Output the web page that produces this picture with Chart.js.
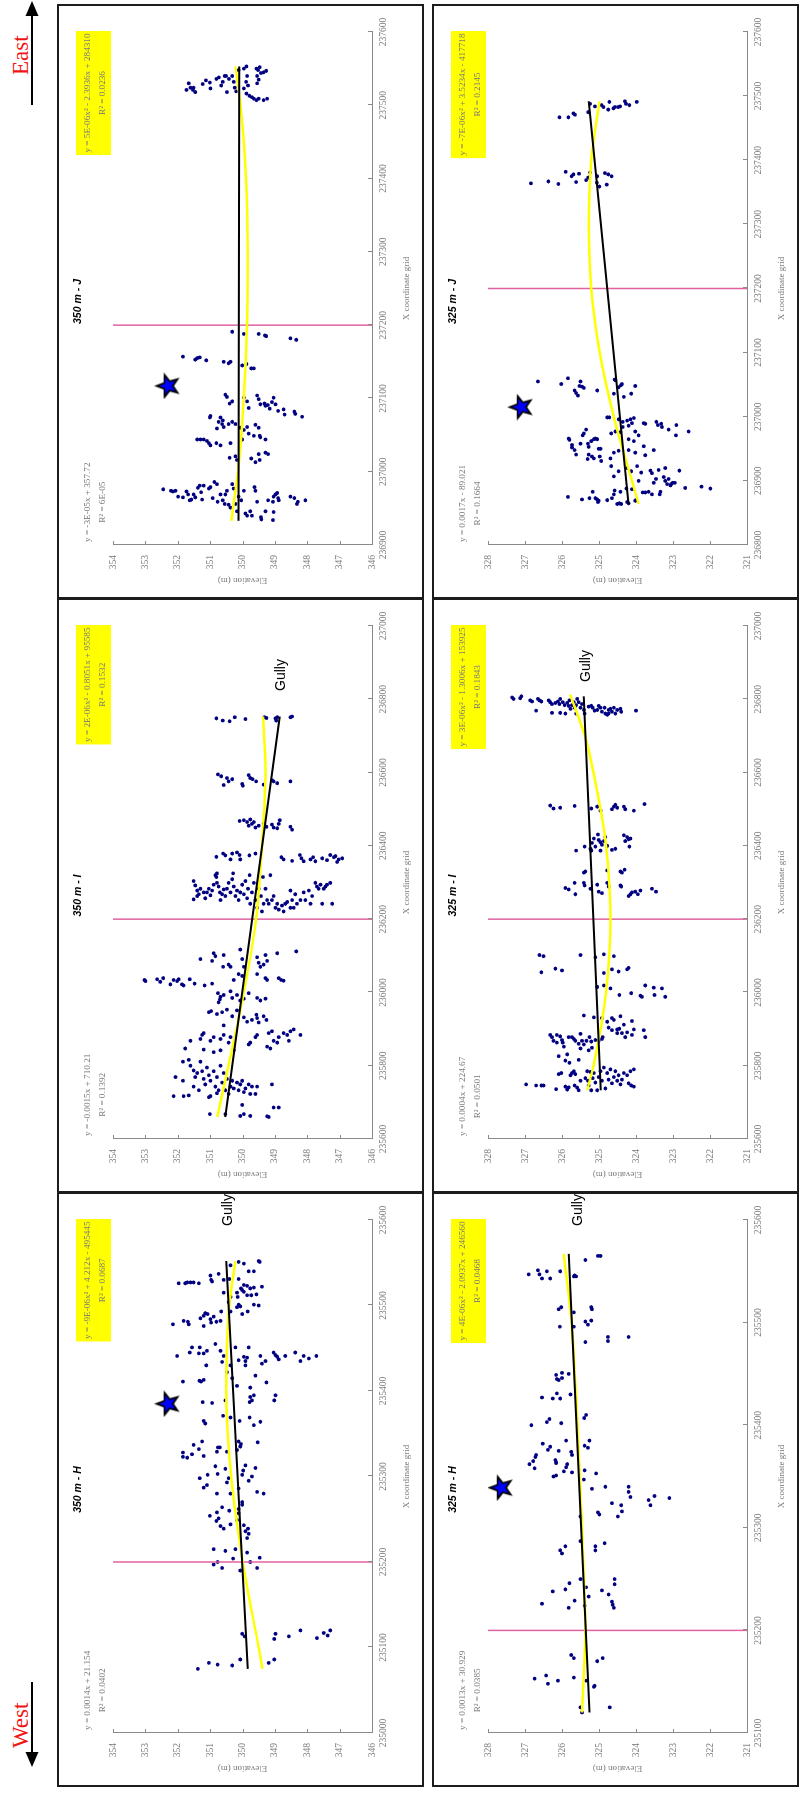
<!DOCTYPE html>
<html>
<head>
<meta charset="utf-8">
<title>Elevation profiles across the X coordinate grid (350 m and 325 m lines)</title>
<script src="https://cdn.jsdelivr.net/npm/chart.js@4.4.1/dist/chart.umd.min.js"></script>
<style>
html, body { margin: 0; padding: 0; background: #fff; }
body { width: 800px; height: 1798px; overflow: hidden; position: relative; }
/* the sheet is laid out in landscape and turned a quarter turn counter-clockwise */
#sheet { position: absolute; left: 0; top: 0; width: 1798px; height: 800px;
         transform-origin: 0 0; transform: translate(0, 1798px) rotate(-90deg); }
.panel { position: absolute; width: 595px; height: 367px; box-sizing: border-box;
         border: 2px solid #1c1c1c; background: #fff; }
.panel canvas { position: absolute; left: 0; top: 0; }
#compass { position: absolute; left: 0; top: 0; }
</style>
</head>
<body>
<div id="sheet">
  <svg id="compass" width="1798" height="50" xmlns="http://www.w3.org/2000/svg">
    <text x="50" y="28" font-family="Liberation Serif, Times New Roman, serif" font-size="23" fill="#f01414">West</text>
    <line x1="116" y1="32" x2="44" y2="32" stroke="#000" stroke-width="2"/>
    <polygon points="31,32 46,25.5 46,38.5" fill="#000"/>
    <text x="1723" y="28" font-family="Liberation Serif, Times New Roman, serif" font-size="23" fill="#f01414">East</text>
    <line x1="1693" y1="32" x2="1784" y2="32" stroke="#000" stroke-width="2"/>
    <polygon points="1797,32 1782,25.5 1782,38.5" fill="#000"/>
  </svg>
</div>
<script>
// ---------- axis ticks ----------
const elevTicks350 = [346, 347, 348, 349, 350, 351, 352, 353, 354];
const elevTicks325 = [321, 322, 323, 324, 325, 326, 327, 328];
const xTicksJ350 = [236900, 237000, 237100, 237200, 237300, 237400, 237500, 237600];
const xTicksI = [235600, 235800, 236000, 236200, 236400, 236600, 236800, 237000];
const xTicksH350 = [235000, 235100, 235200, 235300, 235400, 235500, 235600];
const xTicksJ325 = [236800, 236900, 237000, 237100, 237200, 237300, 237400, 237500, 237600];
const xTicksH325 = [235100, 235200, 235300, 235400, 235500, 235600];

// ---------- section boundaries (vertical marker lines) ----------
const boundaryJ = 237200;
const boundaryI = 236200;
const boundaryH = 235200;

// ---------- star markers [x, elevation] ----------
const starJ350 = [237117, 352.33];
const starH350 = [235385, 352.33];
const starJ325 = [237015, 327.13];
const starH325 = [235339, 327.67];

// ---------- survey points [x, elevation] ----------
const ptsJ350 = [
  [237521,351.73],[237530,351.66],[237524,351.61],[237524,351.51],[237518,351.46],[237521,351.53],[237529,351.23],[237534,351.13],
  [237531,351.01],[237523,350.99],[237536,350.81],[237538,350.73],[237527,350.66],[237532,350.61],[237540,350.55],[237540,350.51],
  [237518,350.48],[237536,350.42],[237540,350.32],[237532,350.27],[237524,350.24],[237519,350.20],[237548,350.12],[237550,349.96],
  [237553,349.88],[237540,349.86],[237532,349.89],[237527,349.83],[237523,349.96],[237516,349.88],[237513,349.79],[237511,349.71],
  [237550,349.57],[237548,349.52],[237552,349.47],[237544,349.43],[237540,349.55],[237535,349.50],[237545,349.35],[237547,349.27],
  [237530,349.55],[237509,349.65],[237507,349.57],[237509,349.50],[237507,349.35],[237509,349.24],
  [237191,350.32],[237188,349.96],[237188,349.50],[237186,349.31],[237185,349.27],[237182,348.52],[237180,348.34],[237157,351.84],
  [237153,351.46],[237155,351.40],[237156,351.32],[237152,351.12],[237150,350.58],[237148,350.43],[237150,350.37],[237145,350.01],
  [237147,349.88],[237141,349.73],[237141,349.65],
  [237105,350.53],[237102,350.48],[237093,350.40],[237096,350.32],[237101,349.96],[237096,349.86],[237087,349.81],[237104,349.55],
  [237099,349.50],[237092,349.45],[237093,349.32],[237090,349.29],[237091,349.22],[237086,349.16],[237095,349.09],[237101,349.04],
  [237092,348.98],[237083,348.90],[237085,348.73],[237078,348.70],[237082,348.40],[237079,348.37],[237075,348.16],[237076,350.99],
  [237074,351.01],[237074,350.68],[237070,350.61],[237068,350.74],[237065,350.63],[237059,350.79],[237061,350.58],[237065,350.43],
  [237068,350.32],[237065,350.22],[237060,350.07],[237057,349.96],[237061,349.86],[237064,349.60],[237060,349.50],[237052,349.81],
  [237049,349.65],[237049,349.47],[237047,349.45],[237044,349.29],[237044,351.40],[237044,351.30],[237044,351.20],[237042,351.10],
  [237039,351.04],[237036,350.99],[237039,350.81],[237036,350.68],[237039,350.37],[237044,350.01],
  [237019,350.40],[237021,350.22],[237016,350.17],[237018,349.73],[237013,349.60],[237024,349.50],[237016,349.47],[237026,349.29],
  [237024,349.21],
  [236976,352.45],[236974,352.21],[236973,352.15],[236974,352.07],[236966,351.99],[236965,351.84],[236973,351.73],[236969,351.68],
  [236961,351.63],[236962,351.58],[236969,351.51],[236965,351.46],[236978,351.38],[236981,351.32],[236972,351.28],[236962,351.25],
  [236981,351.20],[236977,351.04],[236979,350.99],[236964,350.92],[236986,350.87],[236983,350.79],[236959,350.77],[236969,350.68],
  [236961,350.61],[236956,350.55],[236969,350.53],[236974,350.48],[236951,350.37],[236983,350.32],[236977,350.27],[236946,350.17],
  [236966,350.12],[236961,350.04],[236974,349.96],[236943,349.91],[236940,349.86],[236946,349.76],[236940,349.71],[236979,349.63],
  [236974,349.60],[236959,349.55],[236938,349.43],[236935,349.42],[236946,349.29],[236961,349.21],[236959,349.06],[236966,349.04],
  [236969,348.98],[236971,348.93],[236964,348.90],[236961,348.88],[236945,349.04],[236934,349.06],[236966,348.52],[236964,348.40],
  [236956,348.32],[236959,348.29],[236961,348.06],[236956,350.22],[236955,350.43]
];

const ptsI350 = [
  [236748,350.81],[236742,350.61],[236740,350.40],[236751,350.24],[236746,349.91],[236751,349.32],[236749,349.26],[236748,348.98],
  [236751,348.93],[236742,348.96],[236751,348.52],[236753,348.47],
  [236595,350.76],[236590,350.66],[236566,350.58],[236585,350.48],[236576,350.43],[236582,350.32],[236569,350.01],[236564,349.99],
  [236593,349.81],[236585,349.76],[236582,349.69],[236576,349.58],[236567,349.35],[236579,349.09],[236576,349.04],[236571,348.93],
  [236576,348.52],
  [236468,350.09],[236470,349.96],[236465,349.86],[236455,349.81],[236472,349.76],[236460,349.71],[236465,349.65],[236450,349.60],
  [236455,349.50],[236460,349.35],[236452,349.26],[236458,349.09],[236450,349.04],[236448,348.93],[236460,348.88],[236470,348.85],
  [236452,348.52],[236444,348.47],
  [236370,350.81],[236379,350.60],[236374,350.53],[236363,350.37],[236379,350.32],[236382,350.17],[236375,350.09],[236363,350.07],
  [236374,349.79],[236379,349.60],[236369,348.80],[236363,348.73],[236359,348.47],[236375,348.23],[236366,348.18],[236358,348.11],
  [236363,347.90],[236369,347.82],[236358,347.75],[236366,347.54],[236361,347.39],[236375,347.29],[236369,347.18],[236363,347.03],
  [236372,347.13],[236366,346.92],[236356,347.08],
  [236304,351.51],[236292,351.46],[236278,351.40],[236268,351.35],[236283,351.30],[236273,351.20],[236257,351.15],[236254,351.51],
  [236263,351.40],[236273,351.10],[236283,351.04],[236265,350.99],[236278,350.94],[236294,350.89],[236320,350.84],[236315,350.81],
  [236299,350.79],[236289,350.74],[236273,350.70],[236252,350.68],[236268,350.63],[236281,350.58],[236325,350.79],[236263,350.53],
  [236283,350.48],[236299,350.43],[236273,350.37],[236309,350.32],[236325,350.29],[236289,350.27],[236263,350.22],[236278,350.17],
  [236252,350.12],[236273,350.07],[236294,350.01],[236268,349.96],[236304,349.91],[236257,349.86],[236283,349.83],[236320,349.78],
  [236242,349.76],[236273,349.71],[236299,349.65],[236252,349.60],[236231,349.55],[236283,349.50],[236263,349.43],[236315,349.37],
  [236242,349.35],[236221,349.40],[236283,349.29],[236252,349.24],[236242,349.19],[236320,349.14],[236263,349.04],[236231,348.98],
  [236242,348.93],[236226,348.88],[236237,348.78],[236221,348.73],[236242,348.68],[236247,348.62],[236278,348.52],[236252,348.47],
  [236231,348.42],[236268,348.37],[236242,348.32],[236252,348.21],[236273,348.11],[236252,348.06],[236278,347.95],[236242,347.90],
  [236263,347.85],[236299,347.75],[236289,347.70],[236283,347.65],[236294,347.59],[236283,347.49],[236289,347.44],[236294,347.39],
  [236299,347.29],[236242,347.54],[236242,347.23],[236231,348.52],[236252,349.09],
  [236091,351.30],[236107,350.89],[236086,350.94],[236099,350.84],[236102,350.58],[236070,350.60],[236076,350.43],[236070,350.37],
  [236117,350.07],[236091,350.01],[236070,349.96],[236096,349.55],[236081,349.50],[236070,349.45],[236102,349.29],[236086,349.24],
  [236076,349.35],[236107,348.93],[236112,348.34],[236050,350.12],[236045,350.01],[236050,349.55],[236039,349.29],[236034,349.24],
  [236039,348.88],[236034,348.81],[236032,348.73],[236034,350.27],[236034,353.03],[236031,353.00],[236036,352.64],[236029,352.54],
  [236039,352.45],[236022,352.23],[236034,352.13],[236031,352.02],[236036,351.97],[236022,351.87],[236019,351.82],[236036,351.63],
  [236024,351.48],[236019,351.17],[236024,350.94],
  [235998,350.76],[235988,350.68],[235981,350.70],[235993,350.58],[236003,350.37],[235985,350.32],[235993,350.17],[235978,350.07],
  [235983,349.96],[235998,349.81],[235985,349.55],[235978,349.45],[235983,349.29],[235973,350.74],
  [235946,351.04],[235949,350.97],[235941,350.79],[235946,350.63],[235953,350.48],[235935,350.32],[235951,350.17],[235932,349.96],
  [235920,349.86],[235925,349.71],[235939,349.57],[235930,349.55],[235918,349.50],[235935,349.35],[235925,349.26],[235910,350.58],
  [235868,351.61],[235847,351.77],[235873,351.30],[235884,351.25],[235889,351.20],[235868,350.99],[235878,350.89],[235873,350.68],
  [235884,350.58],[235863,350.43],[235878,350.37],[235842,350.27],[235858,349.81],[235863,349.76],[235878,349.60],[235884,349.55],
  [235852,349.24],[235889,349.19],[235847,349.14],[235894,349.09],[235868,349.04],[235863,348.93],[235878,348.88],[235889,348.73],
  [235884,348.62],[235868,348.57],[235894,348.52],[235899,348.42],[235884,348.21],[235844,351.20],[235837,350.89],[235842,350.68],
  [235811,351.84],[235816,351.66],[235800,351.61],[235787,351.51],[235769,351.46],[235780,351.40],[235811,351.30],[235785,351.25],
  [235764,351.20],[235749,351.15],[235795,351.10],[235774,351.04],[235759,350.99],[235785,350.89],[235743,350.84],[235769,350.79],
  [235800,350.68],[235754,350.63],[235780,350.58],[235733,350.53],[235764,350.48],[235723,350.43],[235743,350.37],[235759,350.32],
  [235738,350.27],[235754,350.17],[235733,350.12],[235749,350.07],[235759,350.01],[235728,349.96],[235738,349.91],[235749,349.81],
  [235723,349.76],[235743,349.71],[235723,349.60],[235743,349.55],[235749,349.09],[235769,352.07],[235759,351.84],[235743,351.51],
  [235733,351.35],[235717,352.13],[235717,351.82],[235719,351.66],[235714,351.04],[235717,350.99],[235725,350.79],[235733,350.74],
  [235668,351.01],[235668,350.53],[235663,350.07],[235693,350.01],[235668,349.96],[235663,349.76],[235662,349.24],[235660,349.19],
  [235686,349.04],[235686,348.88]
];

const ptsH350 = [
  [235551,350.12],[235549,349.96],[235552,349.50],[235551,349.47],[235540,349.65],[235540,349.81],[235547,350.37],[235537,350.74],
  [235535,350.99],[235530,350.97],[235528,350.94],[235530,350.58],[235531,350.41],[235531,350.12],[235524,349.96],[235523,349.86],
  [235520,350.05],[235518,350.01],[235515,350.17],[235520,349.76],[235521,349.65],[235522,349.40],[235513,349.57],[235512,349.73],
  [235512,349.86],[235526,351.97],[235526,351.77],[235527,351.71],[235527,351.61],[235527,351.51],[235526,351.35],[235515,350.58],
  [235510,350.37],[235516,349.96],[235510,350.15],
  [235501,350.12],[235499,350.07],[235498,350.17],[235490,350.01],[235493,349.84],[235501,349.65],[235500,349.50],[235504,350.43],
  [235493,350.37],[235493,350.66],[235482,350.68],[235481,350.81],[235487,350.89],[235480,350.97],[235491,351.15],[235488,351.20],
  [235485,351.30],[235476,351.20],[235481,351.69],[235478,351.66],[235482,351.82],[235478,352.15],[235484,350.99],[235490,351.08],
  [235441,352.02],[235445,351.63],[235451,351.56],[235444,351.35],[235451,351.32],[235444,351.20],[235447,351.10],[235455,350.84],
  [235447,350.68],[235441,350.58],[235451,350.22],[235436,350.12],[235440,349.96],[235435,349.91],[235451,349.81],[235439,349.86],
  [235441,349.45],[235432,349.40],[235435,349.29],[235445,349.04],[235442,348.98],[235440,348.93],[235437,348.88],[235441,348.68],
  [235445,348.37],[235435,348.21],[235441,348.11],[235438,347.95],[235441,347.72],[235430,351.12],[235434,350.63],[235430,350.37],
  [235430,349.91],
  [235411,351.84],[235412,351.33],[235411,351.28],[235413,351.20],[235422,350.48],[235415,350.32],[235406,350.17],[235418,349.60],
  [235410,349.26],[235404,349.76],
  [235387,351.23],[235386,350.94],[235393,349.76],[235395,349.65],[235387,349.78],[235389,349.71],[235395,348.98],[235389,349.02],
  [235371,350.60],[235369,350.37],[235365,350.09],[235369,349.78],[235364,349.45],[235360,349.65],[235365,351.20],[235362,351.15],
  [235389,350.53],
  [235337,351.51],[235326,351.56],[235332,351.35],[235341,351.25],[235324,351.20],[235328,351.84],[235323,351.84],[235322,351.71],
  [235334,350.76],[235329,350.79],[235334,350.70],[235329,350.48],[235341,350.12],[235338,350.05],[235335,350.07],[235340,349.53],
  [235331,350.17],
  [235298,351.32],[235290,351.10],[235312,350.84],[235303,350.77],[235280,350.79],[235309,350.53],[235293,350.48],[235298,350.43],
  [235280,350.37],[235286,350.12],[235307,349.98],[235313,349.91],[235295,349.81],[235300,349.71],[235310,349.60],[235282,349.55],
  [235280,349.35],[235287,351.20],[235302,351.08],[235302,350.01],
  [235254,351.01],[235248,350.81],[235258,350.79],[235251,350.74],[235264,350.63],[235242,350.68],[235239,350.58],[235260,350.41],
  [235244,350.37],[235249,350.17],[235262,350.12],[235270,350.01],[235243,349.96],[235236,349.91],[235239,349.83],[235233,349.81],
  [235228,349.86],[235267,350.01],[235257,350.12],
  [235215,350.89],[235213,350.53],[235215,350.22],[235211,349.86],[235205,349.47],[235204,350.29],[235197,350.89],[235200,350.77],
  [235193,350.63],[235190,350.07],[235200,349.76],[235193,349.55],
  [235116,350.01],[235113,349.93],[235116,348.98],[235110,349.02],[235113,348.57],[235120,348.21],[235111,347.70],[235117,347.49],
  [235114,347.37],[235120,347.29],
  [235075,351.38],[235082,351.04],[235080,350.77],[235079,350.32],[235086,350.07],[235082,349.19],[235086,349.02]
];

const ptsJ325 = [
  [237467,326.07],[237467,325.83],[237473,325.69],[237471,325.65],[237475,325.29],[237488,325.24],[237484,325.11],[237486,324.93],
  [237483,324.88],[237479,324.75],[237491,324.72],[237481,324.61],[237483,324.57],[237483,324.48],[237484,324.43],[237492,324.30],
  [237488,324.27],[237486,324.18],[237491,323.98],
  [237364,326.84],[237367,326.37],[237363,326.10],[237382,325.90],[237375,325.74],[237378,325.69],[237366,325.62],[237379,325.54],
  [237369,325.35],[237373,325.29],[237381,325.24],[237365,325.06],[237375,325.05],[237359,324.99],[237380,324.84],[237362,324.79],
  [237378,324.75],[237375,324.66],
  [237055,326.65],[237051,326.02],[237060,325.84],[237055,325.50],[237048,325.53],[237047,325.46],[237045,325.41],[237041,325.66],
  [237037,325.62],[237033,325.57],[237041,325.05],[237058,324.58],[237057,324.56],[237046,324.47],[237049,324.41],[237051,324.38],
  [237036,324.60],[237031,324.33],[237036,324.13],[237048,324.02],
  [236999,324.78],[236999,324.72],[236996,324.47],[236992,324.36],[236994,324.24],[236996,324.15],[236990,324.11],[236998,324.06],
  [236986,324.20],[236990,323.79],[236989,323.75],[236992,323.45],[236987,323.41],[236989,323.32],[236984,323.30],[236980,323.12],
  [236987,322.91],[236971,322.92],[236977,322.58],[236974,324.67],[236977,324.56],[236976,324.42],[236984,324.36],[236965,324.20],
  [236962,324.06],[236971,323.93],[236948,323.52],[236977,324.02],[236980,325.35],[236974,325.41],[236971,325.44],[236966,325.82],
  [236964,325.80],[236956,325.73],[236952,325.73],[236948,325.66],[236941,325.62],[236958,325.50],[236958,325.30],[236953,325.28],
  [236962,325.21],[236965,325.14],[236966,325.10],[236965,325.05],[236950,325.01],[236938,324.98],[236941,325.28],[236938,325.19],
  [236935,325.14],[236934,325.31],[236931,324.94],[236935,324.69],[236944,324.60],[236947,324.47],[236948,324.20],[236944,324.02],
  [236954,323.79],[236940,323.75],[236950,324.96],
  [236923,324.67],[236907,324.60],[236915,324.47],[236920,324.24],[236915,324.13],[236923,323.97],[236900,323.93],[236913,323.86],
  [236916,323.61],[236912,323.57],[236917,323.39],[236903,323.46],[236920,323.21],[236906,323.25],[236900,323.21],[236895,323.16],
  [236903,323.12],[236895,323.05],[236897,323.01],[236897,322.95],[236893,323.07],[236916,322.83],[236889,322.67],[236891,322.23],
  [236888,321.99],[236882,323.82],[236897,323.52],[236883,323.34],[236879,323.36],[236879,323.57],[236883,323.66],[236882,323.75],
  [236887,324.11],[236888,324.26],[236883,324.42],[236879,324.60],[236885,324.58],[236875,325.84],[236871,325.46],[236883,325.17],
  [236873,325.10],[236871,325.05],[236869,325.01],[236867,325.03],[236870,324.78],[236873,324.65],[236864,324.51],[236865,324.45],
  [236864,324.40],[236867,324.24],[236865,324.20],[236869,324.02],[236870,324.00],[236873,325.26]
];

const ptsI325 = [
  [236805,327.35],[236801,327.31],[236803,327.13],[236808,327.10],[236797,326.86],[236794,326.81],[236801,326.65],[236797,326.61],
  [236794,326.56],[236769,326.70],[236797,326.36],[236792,326.32],[236787,326.27],[236790,326.18],[236794,326.11],[236787,326.07],
  [236801,326.05],[236792,325.98],[236784,325.93],[236790,325.86],[236782,325.82],[236797,325.80],[236774,325.77],[236784,325.73],
  [236792,325.68],[236777,325.66],[236784,325.62],[236801,325.59],[236792,325.55],[236777,325.50],[236787,325.46],[236771,325.41],
  [236761,325.39],[236780,325.28],[236782,325.21],[236777,325.17],[236769,325.12],[236771,325.05],[236782,325.01],[236777,324.96],
  [236766,324.92],[236777,324.85],[236761,324.83],[236758,324.78],[236771,324.74],[236774,324.69],[236766,324.65],[236777,324.60],
  [236761,324.56],[236771,324.51],[236774,324.42],[236766,324.40],[236761,324.74],[236761,325.91],[236763,326.05],[236763,326.27],
  [236761,325.62],[236769,324.00],
  [236510,326.32],[236502,326.23],[236504,326.05],[236509,325.66],[236502,325.21],[236507,325.05],[236496,324.96],[236500,324.65],
  [236507,324.60],[236512,324.56],[236504,324.51],[236507,324.33],[236500,324.29],[236496,324.06],[236514,323.77],
  [236387,325.62],[236398,325.39],[236392,325.23],[236408,325.19],[236420,325.14],[236398,325.10],[236431,325.03],[236410,324.96],
  [236403,324.92],[236413,324.87],[236424,324.83],[236400,324.78],[236389,324.65],[236392,324.56],[236387,325.21],[236429,324.33],
  [236413,324.29],[236424,324.24],[236418,324.20],[236420,324.15],[236398,324.18],[236416,325.01],[236387,324.96],
  [236327,325.41],[236330,325.37],[236333,324.78],[236330,324.42],[236327,324.38],[236335,324.31],[236285,325.91],[236281,325.82],
  [236299,325.66],[236299,325.41],[236292,325.39],[236283,325.23],[236294,325.05],[236275,325.01],[236271,324.92],[236299,324.78],
  [236289,324.74],[236292,324.42],[236289,324.40],[236268,325.64],[236263,324.20],[236268,324.15],[236273,324.11],[236275,324.02],
  [236268,323.95],[236278,323.88],[236283,323.57],[236275,323.46],
  [236102,326.61],[236099,326.50],[236102,325.50],[236096,325.10],[236104,324.87],[236099,324.60],
  [236055,326.56],[236065,326.18],[236060,326.00],[236063,324.65],[236053,324.87],[236057,324.47],[236063,324.24],[236067,324.20],
  [236015,325.05],[236019,324.87],[236011,324.69],[236019,323.75],[236013,323.52],[236011,323.30],[235993,324.45],[235998,324.13],
  [235991,323.88],[235988,323.84],[235993,323.50],[235988,323.21],
  [235937,325.41],[235932,325.14],[235930,324.92],[235920,324.78],[235930,324.65],[235925,324.60],[235935,324.42],[235912,324.33],
  [235904,324.74],[235897,324.65],[235899,324.51],[235901,324.45],[235889,324.51],[235889,324.38],[235891,324.24],[235922,324.11],
  [235899,324.06],[235897,323.79],[235878,323.75],[235884,324.11],[235878,324.29],[235884,326.32],[235878,326.27],[235868,326.23],
  [235884,326.14],[235880,326.05],[235870,326.00],[235863,325.98],[235878,325.82],[235852,325.95],[235863,326.14],[235878,325.73],
  [235873,325.68],[235868,325.64],[235887,325.50],[235868,325.46],[235858,325.41],[235860,325.55],[235868,325.34],[235866,325.21],
  [235849,325.19],[235842,325.28],[235870,325.10],[235868,325.01],[235873,324.92],[235878,324.90],[235878,325.26],[235831,325.86],
  [235826,326.09],[235814,325.91],[235808,325.80],[235816,325.55],[235847,325.50],
  [235749,326.97],[235746,326.70],[235746,326.56],[235746,326.50],[235736,326.16],[235777,326.09],[235780,326.02],[235743,325.91],
  [235735,325.86],[235741,325.82],[235774,325.77],[235780,325.73],[235785,325.68],[235777,325.64],[235740,325.59],[235733,325.55],
  [235746,325.66],[235759,325.50],[235766,325.37],[235785,325.32],[235759,325.30],[235746,325.28],[235783,325.23],[235733,325.21],
  [235766,325.17],[235780,325.14],[235754,325.10],[235733,325.05],[235769,325.01],[235785,324.96],[235759,324.92],[235795,324.87],
  [235738,324.83],[235780,324.78],[235762,324.74],[235790,324.69],[235752,324.65],[235769,324.60],[235785,324.56],[235759,324.51],
  [235774,324.47],[235749,324.42],[235762,324.38],[235780,324.33],[235774,324.24],[235752,324.20],[235785,324.15],[235746,324.13],
  [235743,324.06],[235790,324.06]
];

const ptsH325 = [
  [235565,325.03],[235565,324.96],[235561,325.37],[235547,326.90],[235551,326.65],[235547,326.61],[235543,326.54],[235550,326.41],
  [235543,326.32],[235550,326.05],[235546,325.66],[235545,325.62],[235545,325.68],
  [235513,326.09],[235515,326.02],[235510,325.68],[235515,325.21],[235513,325.19],[235501,325.37],[235498,325.30],[235502,325.21],
  [235496,326.06],[235496,325.68],[235481,325.37],[235486,324.76],[235482,324.76],[235486,324.20],
  [235449,326.16],[235445,326.14],[235444,326.09],[235451,326.00],[235446,326.00],[235450,325.82],[235427,326.54],[235426,326.25],
  [235431,326.14],[235426,326.05],[235430,325.77],
  [235400,326.83],[235403,326.41],[235406,326.34],[235402,326.02],[235407,325.40],[235410,325.35],
  [235382,326.52],[235376,326.38],[235379,326.32],[235375,326.09],[235385,325.89],[235374,325.75],[235371,325.73],[235380,325.39],
  [235378,325.30],[235385,325.26],
  [235362,326.88],[235365,326.78],[235369,326.72],[235371,326.70],[235358,326.74],[235364,326.16],[235363,326.16],[235366,326.18],
  [235362,325.86],[235359,325.89],[235355,325.95],[235350,326.23],[235351,326.16],[235354,325.73],[235356,325.39],[235347,325.41],
  [235353,325.08],
  [235338,325.19],[235340,324.83],[235340,324.20],[235335,324.20],[235330,324.15],[235331,323.50],[235327,323.66],[235322,323.61],
  [235329,323.10],[235324,324.65],[235322,324.40],[235316,324.38],[235311,324.49],[235315,325.03],[235313,324.99],[235311,325.50],
  [235278,326.05],[235275,326.00],[235282,325.91],[235287,325.50],[235282,325.10],[235278,325.10],[235285,324.85],
  [235250,324.58],[235245,324.58],[235239,324.92],[235235,324.74],[235228,324.65],[235225,324.63],[235222,324.60],[235240,325.91],
  [235229,325.66],[235222,325.82],[235226,326.54],[235238,326.25],[235246,325.80],[235250,325.50],[235242,325.35],[235233,325.28],
  [235224,325.39],
  [235176,325.75],[235173,325.68],[235170,325.05],[235173,324.90],[235153,326.74],[235156,326.43],[235148,326.38],[235151,326.11],
  [235154,325.68],[235151,325.35],[235146,325.12],[235145,325.14],
  [235125,325.50],[235120,325.46],[235125,324.71]
];

// ---------- fitted trend lines [x, elevation] ----------
const linJ350 = [[236933, 350.12], [237553, 350.10]];
const polyJ350 = [[236933, 350.35], [237000, 350.14], [237100, 349.96], [237200, 349.86], [237300, 349.84], [237400, 349.89], [237500, 350.06], [237553, 350.22]];
const linI350 = [[235660, 350.53], [236753, 348.85]];
const polyI350 = [[235660, 350.78], [235800, 350.43], [236000, 349.96], [236200, 349.58], [236400, 349.40], [236600, 349.29], [236753, 349.37]];
const linH350 = [[235075, 349.84], [235552, 350.50]];
const polyH350 = [[235075, 349.38], [235100, 349.50], [235200, 349.99], [235300, 350.35], [235400, 350.50], [235500, 350.41], [235552, 350.22]];
const linJ325 = [[236864, 324.20], [237492, 325.28]];
const polyJ325 = [[236864, 323.93], [236900, 324.11], [237000, 324.60], [237100, 324.98], [237200, 325.21], [237300, 325.28], [237400, 325.21], [237492, 324.99]];
const linI325 = [[235733, 324.95], [236808, 325.41]];
const polyI325 = [[235733, 325.32], [235800, 325.15], [236000, 324.81], [236200, 324.69], [236400, 324.81], [236600, 325.15], [236700, 325.38], [236813, 325.78]];
const linH325 = [[235120, 325.26], [235567, 325.82]];
const polyH325 = [[235120, 325.46], [235200, 325.37], [235300, 325.46], [235400, 325.58], [235500, 325.74], [235567, 325.95]];

// ---------- trend equation labels ----------
const eqLinJ350 = ['y = -3E-05x + 357.72', 'R\u00B2 = 6E-05'];
const eqPolyJ350 = ['y = 5E-06x\u00B2 - 2.3936x + 284310', 'R\u00B2 = 0.0236'];
const eqLinI350 = ['y = -0.0015x + 710.21', 'R\u00B2 = 0.1392'];
const eqPolyI350 = ['y = 2E-06x\u00B2 - 0.8051x + 95585', 'R\u00B2 = 0.1532'];
const eqLinH350 = ['y = 0.0014x + 21.154', 'R\u00B2 = 0.0402'];
const eqPolyH350 = ['y = -9E-06x\u00B2 + 4.212x - 495445', 'R\u00B2 = 0.0687'];
const eqLinJ325 = ['y = 0.0017x - 89.021', 'R\u00B2 = 0.1664'];
const eqPolyJ325 = ['y = -7E-06x\u00B2 + 3.5234x - 417718', 'R\u00B2 = 0.2145'];
const eqLinI325 = ['y = 0.0004x + 224.67', 'R\u00B2 = 0.0501'];
const eqPolyI325 = ['y = 3E-06x\u00B2 - 1.3006x + 153925', 'R\u00B2 = 0.1843'];
const eqLinH325 = ['y = 0.0013x + 30.929', 'R\u00B2 = 0.0385'];
const eqPolyH325 = ['y = 4E-06x\u00B2 - 2.0937x + 246560', 'R\u00B2 = 0.0468'];

// ---------- styling ----------
const SERIF = '"Liberation Serif", "Times New Roman", serif';
const SANS = '"Liberation Sans", Arial, sans-serif';
const AXIS_GREY = '#8a8a8a';
const LABEL_GREY = '#7a7a7a';
const POINT_NAVY = '#000080';
const BOUNDARY_PINK = '#e0629f';
const CANVAS_W = 591, CANVAS_H = 363;

function makeStar(size) {
  const c = document.createElement('canvas');
  c.width = size; c.height = size;
  const g = c.getContext('2d');
  const cx = size / 2, cy = size / 2 + 1, R = size / 2 - 2, r = R * 0.42;
  g.beginPath();
  for (let i = 0; i < 10; i++) {
    const ang = -Math.PI / 2 + i * Math.PI / 5;
    const rad = i % 2 ? r : R;
    g.lineTo(cx + rad * Math.cos(ang), cy + rad * Math.sin(ang));
  }
  g.closePath();
  g.fillStyle = '#0000ff';
  g.fill();
  g.lineWidth = 1.8;
  g.lineJoin = 'miter';
  g.strokeStyle = '#000';
  g.stroke();
  return c;
}
const starImage = makeStar(27);

// titles, equations, labels and inward tick marks
const panelDecor = {
  id: 'panelDecor',
  afterDraw(chart, args, o) {
    const { ctx, chartArea: a, scales: { x, y } } = chart;
    ctx.save();
    ctx.strokeStyle = AXIS_GREY;
    ctx.lineWidth = 1;
    ctx.beginPath();
    x.ticks.forEach(t => {
      const px = Math.round(x.getPixelForValue(t.value)) + 0.5;
      ctx.moveTo(px, a.bottom); ctx.lineTo(px, a.bottom - 4);
    });
    y.ticks.forEach(t => {
      const py = Math.round(y.getPixelForValue(t.value)) + 0.5;
      ctx.moveTo(a.left, py); ctx.lineTo(a.left + 4, py);
    });
    ctx.stroke();

    ctx.textAlign = 'center';
    ctx.textBaseline = 'middle';
    ctx.fillStyle = '#000';
    ctx.font = 'italic bold 10.5px ' + SANS;
    ctx.fillText(o.title, chart.width / 2, 19);

    ctx.font = '9.2px ' + SERIF;
    ctx.fillStyle = LABEL_GREY;
    const w1 = ctx.measureText(o.linEq[0]).width;
    const cx1 = a.left + 3 + w1 / 2;
    ctx.fillText(o.linEq[0], cx1, a.top - 25);
    ctx.fillText(o.linEq[1], cx1, a.top - 10);

    const w2 = Math.max(ctx.measureText(o.polyEq[0]).width, ctx.measureText(o.polyEq[1]).width) + 5;
    ctx.fillStyle = '#ffff00';
    ctx.fillRect(a.right + 1 - w2, a.top - 37, w2, 35);
    ctx.fillStyle = LABEL_GREY;
    const cx2 = a.right + 1 - w2 / 2;
    ctx.fillText(o.polyEq[0], cx2, a.top - 25);
    ctx.fillText(o.polyEq[1], cx2, a.top - 10);

    if (o.gully) {
      ctx.font = '14px ' + SANS;
      ctx.fillStyle = '#000';
      ctx.fillText('Gully', a.right + o.gully[0], a.top + o.gully[1]);
    }
    ctx.restore();
  }
};

const panels = [
  { left: 1199, top: 57, title: '350 m - J', pts: ptsJ350, lin: linJ350, poly: polyJ350, xTicks: xTicksJ350, zTicks: elevTicks350,
    boundary: boundaryJ, star: starJ350, linEq: eqLinJ350, polyEq: eqPolyJ350, gully: null },
  { left: 605, top: 57, title: '350 m - I', pts: ptsI350, lin: linI350, poly: polyI350, xTicks: xTicksI, zTicks: elevTicks350,
    boundary: boundaryI, star: null, linEq: eqLinI350, polyEq: eqPolyI350, gully: [-49, 168] },
  { left: 11, top: 57, title: '350 m - H', pts: ptsH350, lin: linH350, poly: polyH350, xTicks: xTicksH350, zTicks: elevTicks350,
    boundary: boundaryH, star: starH350, linEq: eqLinH350, polyEq: eqPolyH350, gully: [10, 115] },
  { left: 1199, top: 432, title: '325 m - J', pts: ptsJ325, lin: linJ325, poly: polyJ325, xTicks: xTicksJ325, zTicks: elevTicks325,
    boundary: boundaryJ, star: starJ325, linEq: eqLinJ325, polyEq: eqPolyJ325, gully: null },
  { left: 605, top: 432, title: '325 m - I', pts: ptsI325, lin: linI325, poly: polyI325, xTicks: xTicksI, zTicks: elevTicks325,
    boundary: boundaryI, star: null, linEq: eqLinI325, polyEq: eqPolyI325, gully: [-40, 98] },
  { left: 11, top: 432, title: '325 m - H', pts: ptsH325, lin: linH325, poly: polyH325, xTicks: xTicksH325, zTicks: elevTicks325,
    boundary: boundaryH, star: starH325, linEq: eqLinH325, polyEq: eqPolyH325, gully: [10, 90] }
];

const sheet = document.getElementById('sheet');

panels.forEach(p => {
  const box = document.createElement('div');
  box.className = 'panel';
  box.style.left = p.left + 'px';
  box.style.top = p.top + 'px';
  const cv = document.createElement('canvas');
  cv.width = CANVAS_W; cv.height = CANVAS_H;
  cv.style.width = CANVAS_W + 'px'; cv.style.height = CANVAS_H + 'px';
  box.appendChild(cv);
  sheet.appendChild(box);

  const zMin = p.zTicks[0], zMax = p.zTicks[p.zTicks.length - 1];
  const xMin = p.xTicks[0], xMax = p.xTicks[p.xTicks.length - 1];

  new Chart(cv, {
    type: 'scatter',
    data: {
      datasets: [
        { label: 'Reference point', data: p.star ? [p.star] : [], pointStyle: starImage, pointRadius: 12, order: 0 },
        { label: 'Linear trend', data: p.lin, showLine: true, borderColor: '#000', borderWidth: 2, pointRadius: 0, order: 1 },
        { label: 'Polynomial trend', data: p.poly, showLine: true, borderColor: '#ffff00', borderWidth: 2.5, pointRadius: 0,
          cubicInterpolationMode: 'monotone', order: 2 },
        { label: 'Section boundary', data: [[p.boundary, zMin], [p.boundary, zMax]], showLine: true, borderColor: BOUNDARY_PINK,
          borderWidth: 1.5, pointRadius: 0, order: 3 },
        { label: 'Elevation', data: p.pts, pointRadius: 1.9, pointBackgroundColor: POINT_NAVY, pointBorderWidth: 0,
          backgroundColor: POINT_NAVY, borderColor: POINT_NAVY, order: 4 }
      ]
    },
    options: {
      responsive: false,
      animation: false,
      devicePixelRatio: 1,
      events: [],
      layout: { padding: { top: 54, right: 26, left: 0, bottom: 0 } },
      plugins: {
        legend: { display: false },
        tooltip: { enabled: false },
        panelDecor: { title: p.title, linEq: p.linEq, polyEq: p.polyEq, gully: p.gully }
      },
      scales: {
        x: {
          type: 'linear', position: 'bottom', min: xMin, max: xMax,
          afterBuildTicks: s => { s.ticks = p.xTicks.map(v => ({ value: v })); },
          afterFit: s => { s.height = 50; },
          ticks: { autoSkip: false, maxRotation: 0, minRotation: 0, padding: 6, color: LABEL_GREY,
                   font: { family: SERIF, size: 9.5 }, callback: v => String(v) },
          grid: { display: false, drawTicks: false },
          border: { display: true, color: AXIS_GREY, width: 1 },
          title: { display: true, text: 'X coordinate grid', color: LABEL_GREY, font: { family: SERIF, size: 9 },
                   padding: { top: 0, bottom: 9.6 } }
        },
        y: {
          type: 'linear', position: 'left', min: zMin, max: zMax,
          afterBuildTicks: s => { s.ticks = p.zTicks.map(v => ({ value: v })); },
          afterFit: s => { s.width = 52; },
          ticks: { autoSkip: false, padding: 10, color: LABEL_GREY, font: { family: SERIF, size: 9.5 },
                   callback: v => String(v) },
          grid: { display: false, drawTicks: false },
          border: { display: true, color: AXIS_GREY, width: 1 },
          title: { display: true, text: 'Elevation (m)', color: LABEL_GREY, font: { family: SERIF, size: 9 },
                   padding: { top: 11.6, bottom: 0 } }
        }
      }
    },
    plugins: [panelDecor]
  });
});
</script>
</body>
</html>
